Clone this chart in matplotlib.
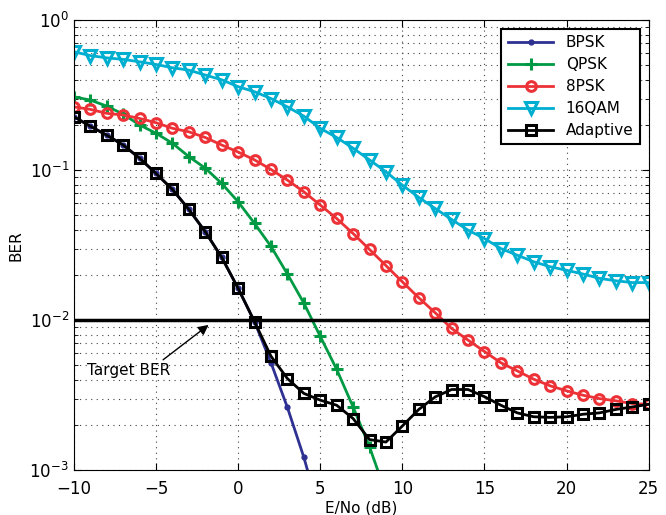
import numpy as np
import matplotlib
matplotlib.use("Agg")
import matplotlib.pyplot as plt
from matplotlib.ticker import LogLocator, NullFormatter

snr = list(range(-10, 26))

bpsk = [0.227, 0.196, 0.171, 0.147, 0.120, 0.095, 0.0743, 0.0547, 0.0388, 0.0262,
        0.0163, 0.00975, 0.0052, 0.00262, 0.00122, 0.0005]
qpsk = [0.308, 0.293, 0.267, 0.236, 0.200, 0.176, 0.151, 0.123, 0.103, 0.0815,
        0.0615, 0.0441, 0.0310, 0.0203, 0.0130, 0.0078, 0.0047, 0.00264, 0.00143, 0.0007]
psk8 = [0.264, 0.254, 0.239, 0.233, 0.221, 0.207, 0.190, 0.180, 0.165, 0.147,
        0.132, 0.117, 0.101, 0.0858, 0.0717, 0.0585, 0.0476, 0.0378, 0.0296, 0.0231,
        0.0180, 0.0141, 0.0112, 0.0088, 0.00736, 0.00618, 0.0052, 0.00459, 0.00404, 0.00365,
        0.00338, 0.00316, 0.0030, 0.0029, 0.00278, 0.00275]
qam16 = [0.615, 0.58, 0.56, 0.547, 0.527, 0.506, 0.481, 0.464, 0.430, 0.400,
         0.360, 0.333, 0.300, 0.264, 0.229, 0.190, 0.165, 0.140, 0.117, 0.0975,
         0.0794, 0.0658, 0.0555, 0.0469, 0.0398, 0.0350, 0.0300, 0.0271, 0.0245, 0.0227,
         0.0215, 0.0203, 0.0190, 0.0183, 0.0178, 0.0178]
adaptive = [0.227, 0.196, 0.171, 0.147, 0.120, 0.095, 0.0743, 0.0547, 0.0388, 0.0262,
            0.0163, 0.00975, 0.00575, 0.00408, 0.00325, 0.00293, 0.00271, 0.00221, 0.0016, 0.00154,
            0.00197, 0.00254, 0.00308, 0.00345, 0.00345, 0.00309, 0.00271, 0.00241, 0.00227, 0.00225,
            0.00227, 0.00236, 0.00241, 0.00254, 0.00264, 0.00275]

target_ber = 1e-2

fig = plt.figure(figsize=(6.66, 5.15), dpi=100)
ax = fig.add_axes([0.111, 0.087, 0.863, 0.874])

ax.plot(snr[:len(bpsk)], bpsk, color="#2e3192", lw=2, marker="o", ms=3.5, label="BPSK")
ax.plot(snr[:len(qpsk)], qpsk, color="#009a44", lw=2, marker="+", ms=8, mew=2.2, label="QPSK")
ax.plot(snr, psk8, color="#ec3237", lw=2, marker="o", ms=7, mfc="none", mew=2.2, label="8PSK")
ax.plot(snr, qam16, color="#00aed0", lw=2, marker="v", ms=8, mfc="none", mew=2.2, label="16QAM")
ax.plot(snr, adaptive, color="black", lw=2, marker="s", ms=6.5, mfc="none", mew=2.2, label="Adaptive")
ax.axhline(target_ber, color="black", lw=2.5)

ax.annotate("Target BER", xy=(-1.8, 0.0093), xytext=(-9.2, 0.00465),
            fontsize=11, va="center", ha="left",
            arrowprops=dict(arrowstyle="-|>", color="black", lw=1, mutation_scale=15,
                            shrinkA=0, shrinkB=0, relpos=(0.87, 1.0)))

ax.set_yscale("log")
ax.set_xlim(-10, 25)
ax.set_ylim(1e-3, 1)
ax.set_xticks(range(-10, 26, 5))
ax.yaxis.set_minor_locator(LogLocator(base=10, subs=np.arange(2, 10)))
ax.yaxis.set_minor_formatter(NullFormatter())
ax.tick_params(which="both", direction="in", top=True, right=True, labelsize=12)
ax.tick_params(which="major", length=5)
ax.tick_params(which="minor", length=3)
ax.tick_params(axis="x", pad=7)
grid_style = dict(linestyle=(0, (1, 4)), color="#444444", lw=0.8)
ax.grid(True, which="major", axis="both", **grid_style)
ax.grid(True, which="minor", axis="y", **grid_style)
ax.set_xlabel("E/No (dB)", fontsize=11, labelpad=2)
ax.set_ylabel("BER", fontsize=11)

leg = ax.legend(loc="upper right", fontsize=11, fancybox=False, edgecolor="black",
                framealpha=1, handlelength=3, borderaxespad=0.6, labelspacing=0.45)
leg.get_frame().set_linewidth(1.5)

fig.savefig("out.png", dpi=100)
